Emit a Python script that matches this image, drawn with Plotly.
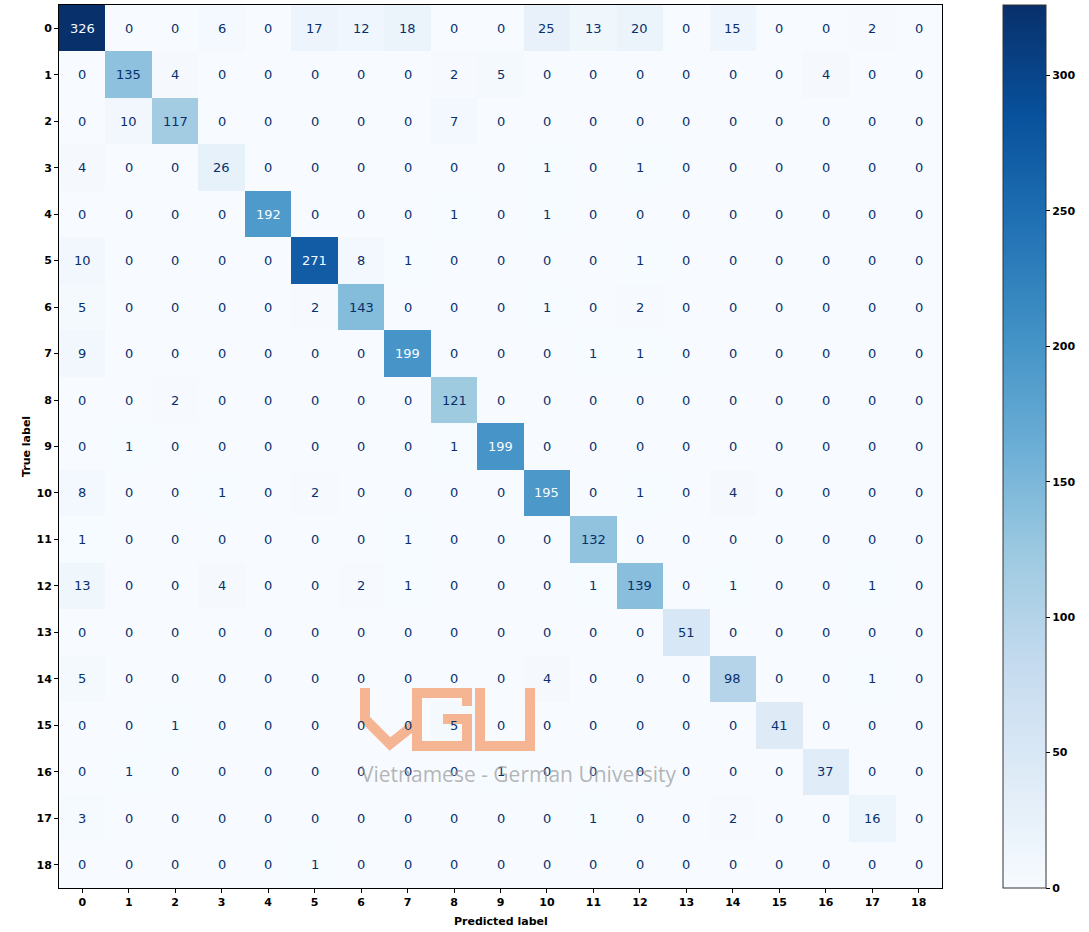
import base64
import plotly.graph_objects as go

labels = [str(i) for i in range(19)]

row_0 = [326, 0, 0, 6, 0, 17, 12, 18, 0, 0, 25, 13, 20, 0, 15, 0, 0, 2, 0]
row_1 = [0, 135, 4, 0, 0, 0, 0, 0, 2, 5, 0, 0, 0, 0, 0, 0, 4, 0, 0]
row_2 = [0, 10, 117, 0, 0, 0, 0, 0, 7, 0, 0, 0, 0, 0, 0, 0, 0, 0, 0]
row_3 = [4, 0, 0, 26, 0, 0, 0, 0, 0, 0, 1, 0, 1, 0, 0, 0, 0, 0, 0]
row_4 = [0, 0, 0, 0, 192, 0, 0, 0, 1, 0, 1, 0, 0, 0, 0, 0, 0, 0, 0]
row_5 = [10, 0, 0, 0, 0, 271, 8, 1, 0, 0, 0, 0, 1, 0, 0, 0, 0, 0, 0]
row_6 = [5, 0, 0, 0, 0, 2, 143, 0, 0, 0, 1, 0, 2, 0, 0, 0, 0, 0, 0]
row_7 = [9, 0, 0, 0, 0, 0, 0, 199, 0, 0, 0, 1, 1, 0, 0, 0, 0, 0, 0]
row_8 = [0, 0, 2, 0, 0, 0, 0, 0, 121, 0, 0, 0, 0, 0, 0, 0, 0, 0, 0]
row_9 = [0, 1, 0, 0, 0, 0, 0, 0, 1, 199, 0, 0, 0, 0, 0, 0, 0, 0, 0]
row_10 = [8, 0, 0, 1, 0, 2, 0, 0, 0, 0, 195, 0, 1, 0, 4, 0, 0, 0, 0]
row_11 = [1, 0, 0, 0, 0, 0, 0, 1, 0, 0, 0, 132, 0, 0, 0, 0, 0, 0, 0]
row_12 = [13, 0, 0, 4, 0, 0, 2, 1, 0, 0, 0, 1, 139, 0, 1, 0, 0, 1, 0]
row_13 = [0, 0, 0, 0, 0, 0, 0, 0, 0, 0, 0, 0, 0, 51, 0, 0, 0, 0, 0]
row_14 = [5, 0, 0, 0, 0, 0, 0, 0, 0, 0, 4, 0, 0, 0, 98, 0, 0, 1, 0]
row_15 = [0, 0, 1, 0, 0, 0, 0, 0, 5, 0, 0, 0, 0, 0, 0, 41, 0, 0, 0]
row_16 = [0, 1, 0, 0, 0, 0, 0, 0, 0, 1, 0, 0, 0, 0, 0, 0, 37, 0, 0]
row_17 = [3, 0, 0, 0, 0, 0, 0, 0, 0, 0, 0, 1, 0, 0, 2, 0, 0, 16, 0]
row_18 = [0, 0, 0, 0, 0, 1, 0, 0, 0, 0, 0, 0, 0, 0, 0, 0, 0, 0, 0]

matrix = [row_0, row_1, row_2, row_3, row_4, row_5, row_6, row_7, row_8, row_9,
          row_10, row_11, row_12, row_13, row_14, row_15, row_16, row_17, row_18]

cbar_ticks = [0, 50, 100, 150, 200, 250, 300]

# matplotlib "Blues"
blues = ["rgb(247,251,255)", "rgb(222,235,247)", "rgb(198,219,239)", "rgb(158,202,225)",
         "rgb(107,174,214)", "rgb(66,146,198)", "rgb(33,113,181)", "rgb(8,81,156)", "rgb(8,48,107)"]
colorscale = [[i / 8, c] for i, c in enumerate(blues)]

zmax = max(max(r) for r in matrix)
zmin = min(min(r) for r in matrix)
thresh = (zmax + zmin) / 2.0

tick_font = dict(family="DejaVu Sans", size=11, color="black", weight="bold")

fig = go.Figure()
fig.add_trace(go.Heatmap(
    z=matrix, x=list(range(19)), y=list(range(19)),
    colorscale=colorscale, zmin=zmin, zmax=zmax,
    hoverinfo="skip",
    colorbar=dict(
        x=1.069, xanchor="left", xpad=0, ypad=0,
        y=0.5, yanchor="middle", len=1, lenmode="fraction",
        thickness=43, outlinewidth=1, outlinecolor="#333",
        tickvals=cbar_ticks, ticks="outside", ticklen=4, tickcolor="black",
        tickfont=tick_font,
    ),
))

annotations = []
for i, row in enumerate(matrix):
    for j, v in enumerate(row):
        annotations.append(dict(
            x=j, y=i, xref="x", yref="y", text=str(v), showarrow=False,
            font=dict(family="DejaVu Sans", size=13,
                      color="rgb(247,251,255)" if v > thresh else "rgb(8,48,107)"),
        ))

# axis titles
annotations.append(dict(x=-0.0464, y=0.5, xref="paper", yref="paper", text="True label",
                        textangle=-90, showarrow=False, font=tick_font))
annotations.append(dict(x=0.5, y=-0.0385, xref="paper", yref="paper", text="Predicted label",
                        showarrow=False, yanchor="middle", font=tick_font))
# watermark text
annotations.append(dict(x=0.5204, y=0.111, xref="paper", yref="paper",
                        text="Vietnamese - German University", showarrow=False,
                        font=dict(family="Open Sans", size=21, color="rgba(150,150,150,0.7)")))

# watermark logo
svg = ('<svg xmlns="http://www.w3.org/2000/svg" width="176" height="63" viewBox="0 0 176 63">'
       '<g fill="none" stroke="#F5B592" stroke-width="10" stroke-linejoin="miter" stroke-linecap="butt">'
       '<polyline points="5,0 5,31 30,56 55,36"/>'
       '<polyline points="107,18 107,5 57,5 57,58 107,58 107,31 83,31"/>'
       '<polyline points="120,0 120,58 170,58 170,0"/>'
       '</g></svg>')
src = "data:image/svg+xml;base64," + base64.b64encode(svg.encode()).decode()

fig.update_layout(
    width=1089, height=932,
    margin=dict(l=59, r=147, t=5, b=44),
    paper_bgcolor="white", plot_bgcolor="white",
    annotations=annotations,
    images=[dict(source=src, xref="paper", yref="paper", x=0.3409, y=0.2265,
                 sizex=0.1993, sizey=0.0713, xanchor="left", yanchor="top",
                 sizing="stretch", layer="above", opacity=1)],
    xaxis=dict(range=[-0.5, 18.5], tickvals=list(range(19)), ticktext=labels,
               ticks="outside", ticklen=4, tickcolor="black", showgrid=False, zeroline=False,
               showline=True, mirror=True, linecolor="black", linewidth=1,
               tickfont=tick_font),
    yaxis=dict(range=[18.5, -0.5], tickvals=list(range(19)), ticktext=labels,
               ticks="outside", ticklen=4, tickcolor="black", showgrid=False, zeroline=False,
               showline=True, mirror=True, linecolor="black", linewidth=1,
               tickfont=tick_font),
)

fig.write_html("out.html",
               config={"displayModeBar": False},
               post_script="document.body.style.margin='0';document.body.style.overflow='hidden';")
